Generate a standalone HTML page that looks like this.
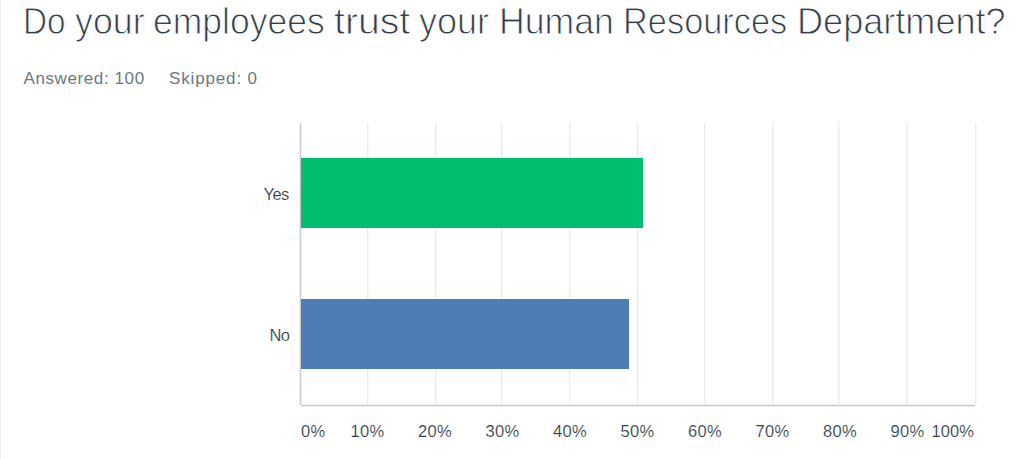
<!DOCTYPE html>
<html>
<head>
<meta charset="utf-8">
<style>
html,body{margin:0;padding:0;background:#fff;}
body{width:1024px;height:459px;position:relative;overflow:hidden;font-family:"Liberation Sans",sans-serif;}
.edge{position:absolute;left:0;top:0;width:1px;height:459px;background:#eceeee;}
.t{position:absolute;white-space:nowrap;line-height:1;}
.w{position:absolute;top:3.5px;font-size:36.5px;line-height:1;white-space:nowrap;color:#333e48;-webkit-text-stroke:0.9px #fff;transform-origin:0 0;}
.sub{top:70px;font-size:17px;color:#6b7885;}
#ans{left:23.5px;letter-spacing:0.6px;}
#skp{left:169px;letter-spacing:0.85px;}
.grid{position:absolute;top:123px;width:1px;height:282px;background:#ebecec;box-shadow:1px 0 0 #f7f7f7;}
#vaxis{position:absolute;left:300px;top:123px;width:1px;height:282px;background:#cbcbcb;box-shadow:-1px 0 0 #ededed,1px 0 0 #f2f2f2;}
#haxis{position:absolute;left:301px;top:405px;width:674px;height:1px;background:#cbcbcb;box-shadow:0 -1px 0 #f0f0f0,0 1px 0 #efefef;}
.bar{position:absolute;left:301px;height:70px;}
#yes{top:158px;width:342px;background:#00bf6f;}
#no{top:299px;width:328px;background:#507cb6;}
.lbl{font-size:16.5px;color:#333e48;letter-spacing:-0.6px;-webkit-text-stroke:0.15px #fff;}
.xl{position:absolute;top:423px;font-size:16.5px;color:#333e48;white-space:nowrap;line-height:1;letter-spacing:0.3px;-webkit-text-stroke:0.15px #fff;}
.c{transform:translateX(-50%);}
</style>
</head>
<body>
<div class="edge"></div>
<div class="w" style="left:22.96px;transform:scaleX(0.9119)">Do</div>
<div class="w" style="left:74.92px;transform:scaleX(0.9797)">your</div>
<div class="w" style="left:153.36px;transform:scaleX(0.9723)">employees</div>
<div class="w" style="left:333.83px;transform:scaleX(1.0739)">trust</div>
<div class="w" style="left:418.91px;transform:scaleX(0.9855)">your</div>
<div class="w" style="left:498.77px;transform:scaleX(0.9759)">Human</div>
<div class="w" style="left:623.07px;transform:scaleX(0.9418)">Resources</div>
<div class="w" style="left:797.33px;transform:scaleX(0.9888)">Department?</div>
<div class="t sub" id="ans">Answered: 100</div>
<div class="t sub" id="skp">Skipped: 0</div>

<div class="grid" style="left:367px"></div>
<div class="grid" style="left:435px"></div>
<div class="grid" style="left:501px"></div>
<div class="grid" style="left:569px"></div>
<div class="grid" style="left:637px"></div>
<div class="grid" style="left:704px"></div>
<div class="grid" style="left:772px"></div>
<div class="grid" style="left:838px"></div>
<div class="grid" style="left:906px"></div>
<div class="grid" style="left:975px"></div>
<div id="vaxis"></div>
<div id="haxis"></div>

<div class="bar" id="yes"></div>
<div class="bar" id="no"></div>

<div class="t lbl" style="left:263.5px;top:186px;">Yes</div>
<div class="t lbl" style="left:269.5px;top:327px;">No</div>

<div class="xl" style="left:301px">0%</div>
<div class="xl c" style="left:367.5px">10%</div>
<div class="xl c" style="left:435.0px">20%</div>
<div class="xl c" style="left:502.5px">30%</div>
<div class="xl c" style="left:570.0px">40%</div>
<div class="xl c" style="left:637.5px">50%</div>
<div class="xl c" style="left:705.0px">60%</div>
<div class="xl c" style="left:772.5px">70%</div>
<div class="xl c" style="left:840.0px">80%</div>
<div class="xl c" style="left:907.5px">90%</div>
<div class="xl" style="left:931.5px;letter-spacing:0.1px">100%</div>
</body>
</html>
